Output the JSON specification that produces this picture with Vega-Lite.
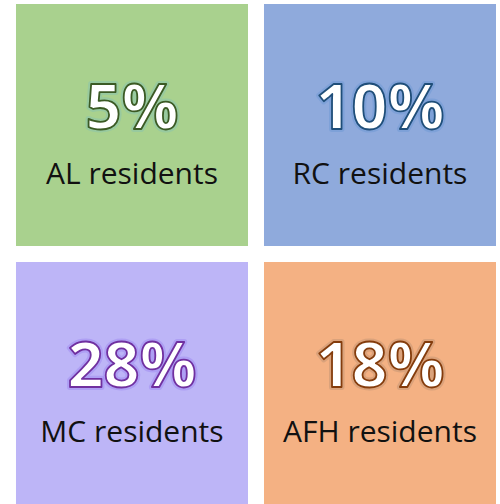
{
  "$schema": "https://vega.github.io/schema/vega-lite/v6.json",
  "width": 500,
  "height": 504,
  "autosize": {"type": "fit", "contains": "padding"},
  "padding": 0,
  "background": "white",
  "config": {"view": {"stroke": null}},
  "data": {
    "values": [
      {"group": "AL", "pct": "5%", "label": "AL residents", "col": 0, "row": 0},
      {"group": "RC", "pct": "10%", "label": "RC residents", "col": 1, "row": 0},
      {"group": "MC", "pct": "28%", "label": "MC residents", "col": 0, "row": 1},
      {"group": "AFH", "pct": "18%", "label": "AFH residents", "col": 1, "row": 1}
    ]
  },
  "encoding": {
    "x": {"field": "col", "type": "ordinal", "axis": null,
          "scale": {"type": "band", "paddingInner": 0.0645, "paddingOuter": 0.0403, "align": 0.8}},
    "y": {"field": "row", "type": "ordinal", "axis": null,
          "scale": {"type": "band", "paddingInner": 0.062, "paddingOuter": 0.00775, "align": 1}}
  },
  "resolve": {"scale": {"stroke": "independent"}},
  "layer": [
    {
      "mark": {"type": "rect"},
      "encoding": {
        "fill": {"field": "group", "type": "nominal", "legend": null,
                 "scale": {"domain": ["AL", "RC", "MC", "AFH"], "range": ["#A9D18E", "#8FAADC", "#BDB5F7", "#F4B183"]}}
      }
    },
    {
      "mark": {"type": "text", "font": "Open Sans", "fontWeight": "bold", "fontSize": 63, "baseline": "alphabetic", "dy": 4, "strokeWidth": 6, "strokeOpacity": 0.3, "fill": "white", "strokeJoin": "round"},
      "encoding": {
        "text": {"field": "pct"},
        "stroke": {"field": "group", "type": "nominal", "legend": null,
                   "scale": {"domain": ["AL", "RC", "MC", "AFH"], "range": ["#6FB8C8", "#5B8FD0", "#8A6CF0", "#A0806A"]}}
      }
    },
    {
      "mark": {"type": "text", "font": "Open Sans", "fontWeight": "bold", "fontSize": 63, "baseline": "alphabetic", "dy": 4, "strokeWidth": 1.8, "fill": "white", "strokeJoin": "round"},
      "encoding": {
        "text": {"field": "pct"},
        "stroke": {"field": "group", "type": "nominal", "legend": null,
                   "scale": {"domain": ["AL", "RC", "MC", "AFH"], "range": ["#3B5A24", "#1F4E79", "#7030A0", "#843C0C"]}}
      }
    },
    {
      "mark": {"type": "text", "font": "Open Sans", "fontSize": 30, "baseline": "alphabetic", "dy": 59, "fill": "#111111"},
      "encoding": {
        "text": {"field": "label"}
      }
    }
  ]
}
